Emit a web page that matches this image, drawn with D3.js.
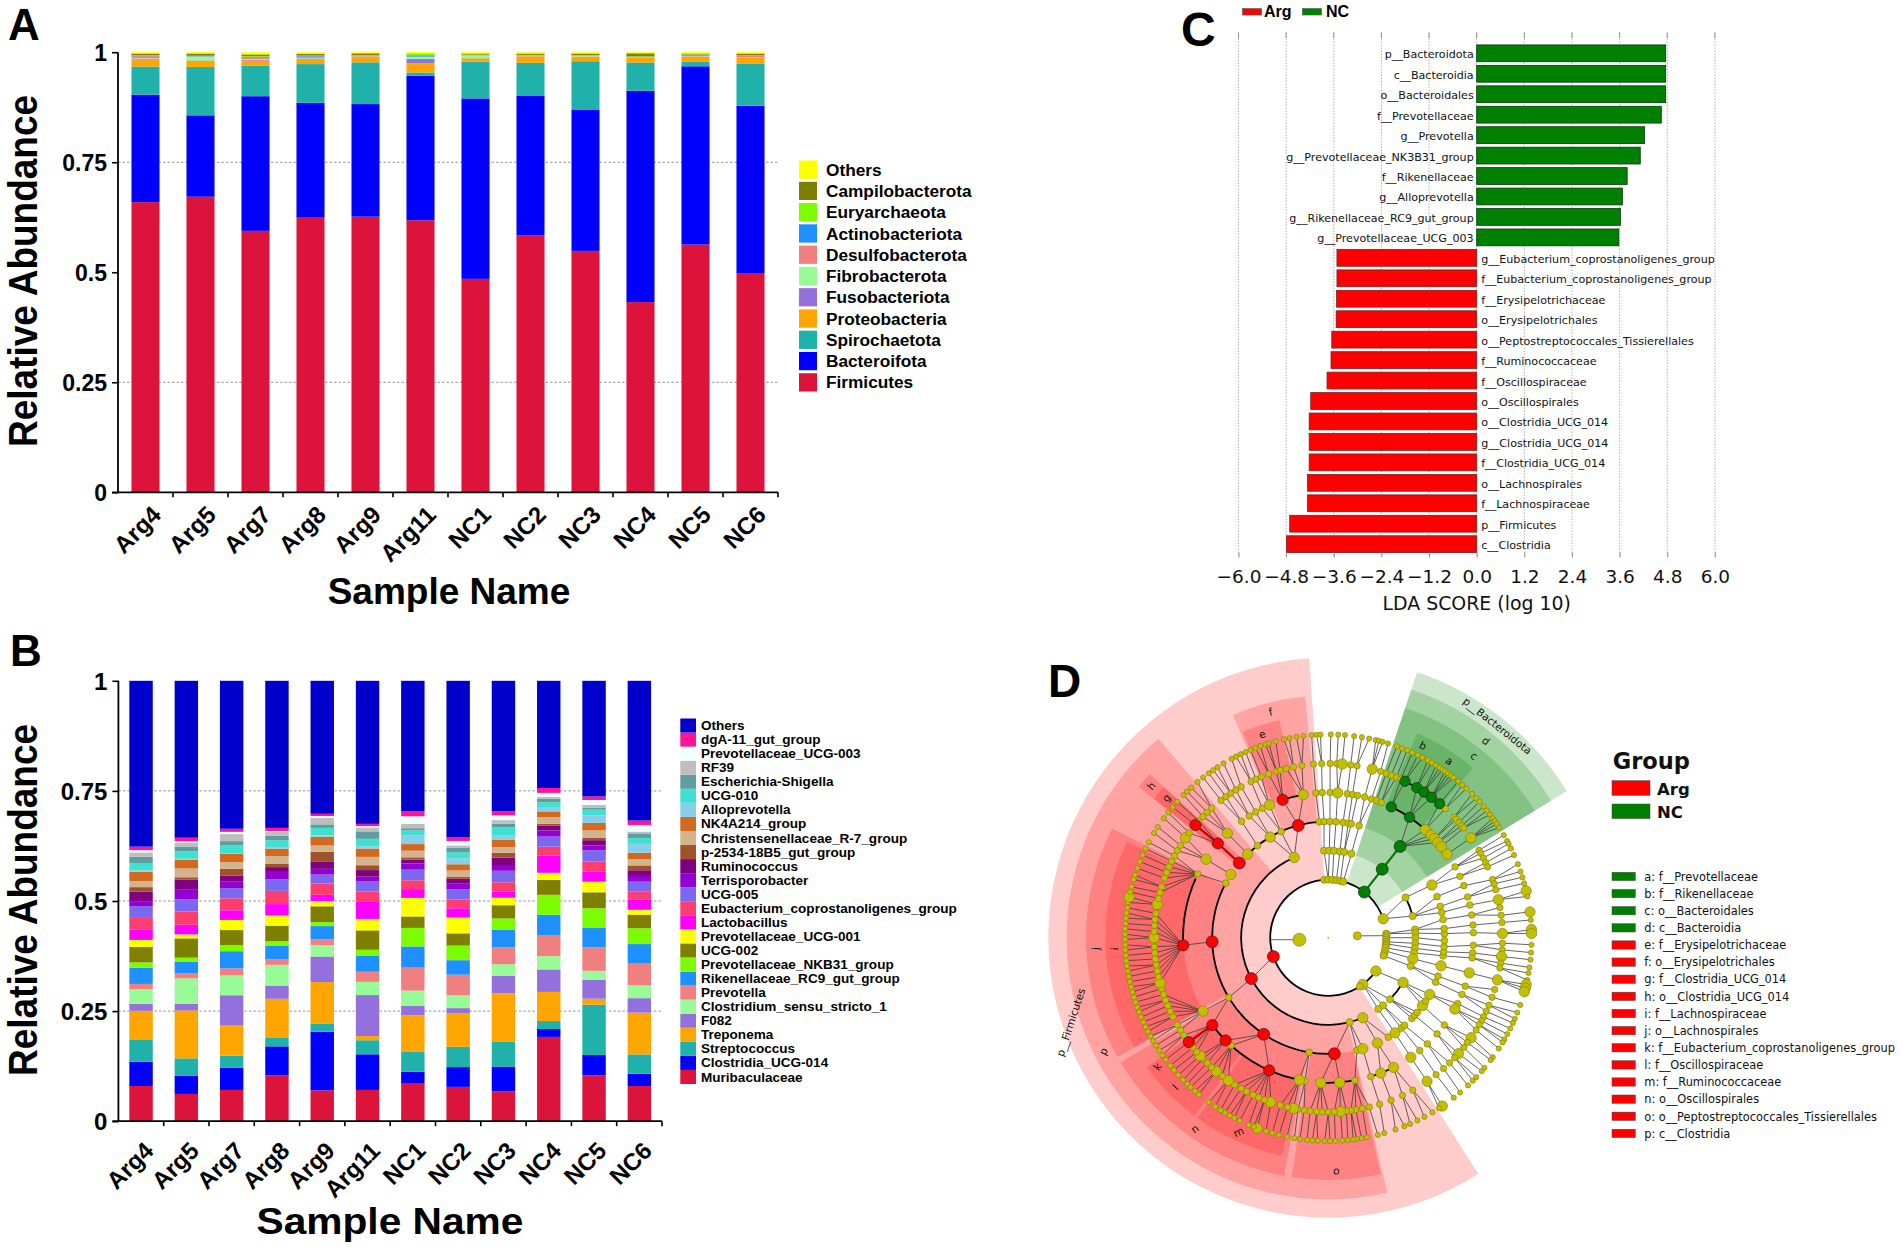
<!DOCTYPE html>
<html><head><meta charset="utf-8">
<script src="https://cdn.jsdelivr.net/npm/d3@7"></script>
<style>
html,body{margin:0;padding:0;background:#fff}
svg{display:block}
.sans{font-family:"Liberation Sans",Arial,sans-serif;font-weight:bold;fill:#000}
.dj{font-family:"DejaVu Sans",sans-serif;fill:#111}
</style></head><body>
<svg id="c" width="1902" height="1247" viewBox="0 0 1902 1247"></svg>
<script>
// ---------- DATA ----------
const samples=["Arg4","Arg5","Arg7","Arg8","Arg9","Arg11","NC1","NC2","NC3","NC4","NC5","NC6"];
const abundanceTicks=[0,0.25,0.5,0.75,1];

// Panel A: phylum relative abundance (%), bottom to top
const phylumNames=["Firmicutes","Bacteroifota","Spirochaetota","Proteobacteria","Fusobacteriota","Fibrobacterota","Desulfobacterota","Actinobacteriota","Euryarchaeota","Campilobacterota","Others"];
const phylumColors=["#DC143C","#0000FF","#20B2AA","#FFA500","#9370DB","#98FB98","#F08080","#1E90FF","#7CFC00","#808000","#FFFF00"];
const Firmicutes=[65.9,67.2,59.4,62.4,62.7,61.6,48.5,58.4,54.8,43.2,56.3,49.8];
const Bacteroifota=[24.4,18.5,30.6,26.1,25.6,32.7,41.0,31.6,32.1,48.0,40.5,38.0];
const Spirochaetota=[6.4,11.0,6.95,8.8,9.5,0.75,8.35,7.55,10.95,6.4,1.1,9.6];
const Proteobacteria=[1.45,1.45,1.15,1.2,1.1,2.05,0.75,1.45,1.05,1.1,1.1,1.35];
const Fusobacteriota=[0.2,0.05,0.15,0.1,0.1,1.0,0.05,0.05,0.05,0.05,0.05,0.05];
const Fibrobacterota=[0.2,0.85,0.2,0.1,0.1,0.5,0.55,0.1,0.1,0.05,0.05,0.05];
const Desulfobacterota=[0.5,0.05,0.3,0.3,0.25,0.05,0.05,0.1,0.1,0.05,0.3,0.3];
const Actinobacteriota=[0.1,0.1,0.15,0.2,0.05,0.3,0.05,0.05,0.05,0.05,0.05,0.05];
const Euryarchaeota=[0.1,0.05,0.2,0.05,0.05,0.3,0.15,0.05,0.05,0.1,0.05,0.05];
const Campilobacterota=[0.4,0.5,0.4,0.4,0.4,0.1,0.25,0.3,0.35,0.7,0.2,0.4];
const PhylumOthers=[0.3,0.3,0.5,0.35,0.25,0.3,0.3,0.3,0.3,0.25,0.3,0.3];
const phylumValues=[Firmicutes,Bacteroifota,Spirochaetota,Proteobacteria,Fusobacteriota,Fibrobacterota,Desulfobacterota,Actinobacteriota,Euryarchaeota,Campilobacterota,PhylumOthers];

// Panel B: genus relative abundance (%), bottom to top
const genusNames=["Muribaculaceae","Clostridia_UCG-014","Streptococcus","Treponema","F082","Clostridium_sensu_stricto_1","Prevotella","Rikenellaceae_RC9_gut_group","Prevotellaceae_NKB31_group","UCG-002","Prevotellaceae_UCG-001","Lactobacillus","Eubacterium_coprostanoligenes_group","UCG-005","Terrisporobacter","Ruminococcus","p-2534-18B5_gut_group","Christensenellaceae_R-7_group","NK4A214_group","Alloprevotella","UCG-010","Escherichia-Shigella","RF39","Prevotellaceae_UCG-003","dgA-11_gut_group","Others"];
const genusColors=["#DC143C","#0000FF","#20B2AA","#FFA500","#9370DB","#98FB98","#F08080","#1E90FF","#7CFC00","#808000","#FFFF00","#FF00FF","#FF3E6F","#7B68EE","#9400D3","#800080","#A0522D","#D2B48C","#D2691E","#87CEEB","#40E0D0","#5F9EA0","#BEBEBE","#F0FFFF","#FF1493","#0000CD"];
const Muribaculaceae=[8.0,6.2,7.1,10.4,7.0,7.1,8.5,7.8,6.8,19.1,10.4,8.0];
const ClostridiaUCG014=[5.5,4.1,5.0,6.6,13.3,8.1,2.7,4.5,5.6,1.8,4.6,2.8];
const Streptococcus=[5.1,4.0,2.8,1.9,1.9,3.2,4.5,4.6,5.6,1.8,11.4,4.4];
const Treponema=[6.5,10.9,6.8,8.9,9.4,0.95,8.3,7.7,11.0,6.6,1.35,9.5];
const F082=[1.6,1.5,6.9,3.0,5.8,9.3,2.1,1.1,4.0,5.1,4.3,3.3];
const ClostridiumSS1=[3.3,5.8,4.5,4.7,2.6,3.0,3.5,2.9,2.6,3.0,2.0,2.9];
const Prevotella=[1.2,1.1,1.6,1.3,1.3,2.3,5.2,4.7,3.9,4.8,5.3,5.1];
const RikenellaceaeRC9=[3.7,2.7,3.9,3.0,3.0,3.7,4.8,3.3,3.9,4.6,4.4,4.3];
const PrevotellaceaeNKB31=[1.2,0.9,1.4,1.1,0.9,1.3,4.2,3.3,2.6,4.5,4.5,3.6];
const UCG002=[3.5,4.4,3.4,3.5,3.6,4.4,2.6,2.8,3.0,3.4,3.6,3.1];
const PrevotellaceaeUCG001=[1.6,0.9,2.3,2.3,1.2,2.6,4.2,3.6,1.7,1.6,2.4,1.1];
const Lactobacillus=[2.4,2.2,2.2,2.6,1.4,3.9,2.0,2.1,1.4,3.9,2.3,2.3];
const EubacteriumCoprostanoligenes=[2.6,3.0,2.7,3.0,2.6,2.3,2.0,2.0,2.1,2.0,2.3,1.8];
const UCG005=[2.7,2.8,2.3,2.6,2.0,2.4,2.4,2.3,2.6,2.3,2.5,2.3];
const Terrisporobacter=[1.1,2.3,1.6,1.7,1.3,1.0,1.4,1.4,1.1,1.4,1.1,1.3];
const Ruminococcus=[2.2,2.2,1.3,1.1,1.7,1.5,0.9,1.0,1.9,1.1,1.2,1.3];
const p2534=[1.0,0.5,1.5,0.8,2.2,1.1,0.5,0.5,1.1,0.4,0.5,1.1];
const ChristensenellaceaeR7=[1.4,2.0,1.5,1.7,1.4,1.9,1.5,1.4,1.3,1.5,1.7,1.4];
const NK4A214=[2.1,2.0,1.9,1.7,2.0,1.9,1.5,1.4,1.7,1.3,1.7,1.5];
const Alloprevotella=[0.3,0.2,0.2,0.2,0.3,0.5,2.0,1.3,1.0,1.0,1.7,2.0];
const UCG010=[1.7,1.7,1.7,1.7,1.7,1.7,1.1,1.4,1.8,1.1,1.3,1.3];
const EscherichiaShigella=[1.4,1.1,1.0,1.0,0.8,1.7,0.5,1.0,0.8,0.8,0.5,1.1];
const RF39=[1.0,0.9,1.6,0.9,1.5,0.9,1.0,0.6,0.8,0.4,0.6,0.4];
const PrevotellaceaeUCG003=[0.5,0.3,0.5,0.2,0.4,0.3,1.7,1.0,1.1,0.9,1.1,1.5];
const dgA11=[0.8,0.8,0.7,0.7,0.5,0.5,1.2,0.8,0.9,1.1,0.8,1.0];
const GenusOthers=[37.7,35.7,33.6,33.4,30.2,32.5,29.5,35.6,29.6,24.3,26.2,31.8];
const genusValues=[Muribaculaceae,ClostridiaUCG014,Streptococcus,Treponema,F082,ClostridiumSS1,Prevotella,RikenellaceaeRC9,PrevotellaceaeNKB31,UCG002,PrevotellaceaeUCG001,Lactobacillus,EubacteriumCoprostanoligenes,UCG005,Terrisporobacter,Ruminococcus,p2534,ChristensenellaceaeR7,NK4A214,Alloprevotella,UCG010,EscherichiaShigella,RF39,PrevotellaceaeUCG003,dgA11,GenusOthers];

// Panel C: LDA
const ldaNames=["p__Bacteroidota","c__Bacteroidia","o__Bacteroidales","f__Prevotellaceae","g__Prevotella","g__Prevotellaceae_NK3B31_group","f__Rikenellaceae","g__Alloprevotella","g__Rikenellaceae_RC9_gut_group","g__Prevotellaceae_UCG_003","g__Eubacterium_coprostanoligenes_group","f__Eubacterium_coprostanoligenes_group","f__Erysipelotrichaceae","o__Erysipelotrichales","o__Peptostreptococcales_Tissierellales","f__Ruminococcaceae","f__Oscillospiraceae","o__Oscillospirales","o__Clostridia_UCG_014","g__Clostridia_UCG_014","f__Clostridia_UCG_014","o__Lachnospirales","f__Lachnospiraceae","p__Firmicutes","c__Clostridia"];
const ldaValues=[4.76,4.76,4.76,4.65,4.23,4.12,3.79,3.67,3.62,3.58,-3.52,-3.52,-3.53,-3.54,-3.65,-3.67,-3.77,-4.18,-4.22,-4.22,-4.22,-4.26,-4.26,-4.71,-4.79];
const ldaTicks=[-6,-4.8,-3.6,-2.4,-1.2,0,1.2,2.4,3.6,4.8,6];

// Panel D: cladogram, node positions as bearing in degrees per taxonomic level
const ring1=[86.3,266];
const ring2=[356,0,4,8,12,15,71,86,88,90,92,94,96,98,100,103,106,108,125,143.5,147];
const ring3=[337,357.2,0.7,3.7,7.7,10.5,15.4,62.5,75.6,84.6,87,90,93.7,97,100,104,109,120.9,135,141,145,156.7,165.8];
const ring4=[355.6,357.9,0.8,3.8,7.3,9.9,11.4,15.4,336,330,322.4,316,303,298,239,189.5,165.7,162.7,155,148.9,145,141,139,134,132,130,125.8,123,119.2,112.5,109.3,104,99,97,94.4,91.5,88,85.5,81,77.5,74.4,69.3,63];
const ring5=[350.1,355.1,357.6,0.7,3.7,7.5,9.6,11.6,14.5,17.3,19.3,21.4,41.9,45,47,49,51.1,54.9,60.8,65,69,73.7,77,81,85,88,93,96,98,104,109.5,113,117,119.4,127,131.5,137,141,145.4,153.3,158.8,163,169.5,175.5,183,189.2,191.5,222,239.6,296,302.7,316,323.3,327,330,333,336.1];
const ring6=[351.3,355.1,357.8,0.6,2.8,4.6,7.4,9.5,14.6,17.5,19.4,21.2,23,24.6,42.2,46.2,47.2,48.6,50,51,55,59.9,61,62.8,64.5,66,70.5,72,74,77.4,80,82.6,85,88.6,91.8,94,96.2,98.4,100,104,107.3,110,112.8,115,117,118.5,120,122,125,127,129,131.7,133.5,135.9,138.6,141.8,145.5,151,154.8,158.9,162.9,166.4,168.7,170.9,172.5,174,176,178,180,182,183.8,186,188,190,191.5,193.5,196,199.3,201.5,203.6,205.5,208,210,212.5,215,217.5,220,222,224,226,227.4,229,231,236,238,240,243,245,247,249,251,253,255,257,259,261,263,265,267,270,272,274,276,278,281,283,285,287,290,292,294,296,298,300,302,305,307,312,314,316,318,322,324,326,328,330,333.7,335.5,337.4,340,342.7,344,346,348.5];
const ring7=[353,355.3,356.7,357.8,0.7,2.8,4.7,7.3,9.5,11.6,13.5,14.4,15.5,17.1,19.7,21.3,22.8,24.4,26.1,27.6,29.3,30.6,32,33.2,34.2,35,36,37,38,39.7,41.2,42.8,45,46.7,48,49.8,51.3,52.7,54,55,56,57.2,59.7,61.6,62.5,64,66,68.8,71,72.7,74.5,76.7,78.3,82.7,85,87.7,88.8,92,94.2,96.2,98.4,100,102,103.3,104.4,105.4,109.3,111.6,113.5,114.8,116.5,118.3,120,121,123,126,127,129.8,131,133.3,134.7,136.6,139.6,141.9,145.9,147,149.2,151.8,154,156.3,158,160.7,164,165.9,169,170.6,172,173,174.5,176,178,179.5,181,183,184.5,186,188,189.6,191.7,194,196,197.8,200.5,201.5,203,205.8,207.5,209,210.6,212,213.8,216,219.5,221,222.6,224,225.6,227.5,229.4,231,233.1,234.7,236.3,238,239.5,241,242.5,244,245.5,247,248.6,250,251.5,253,254.5,256,257.5,259,260.5,262,263.5,265,266.5,268,269.5,271,272.5,274,275.5,277,278.5,280,281.6,283,284.5,286.7,288,290,292,294,296,298,301,303,306,308,310,312,314.6,316,317.6,320,322,324,325.5,327,329,331.6,333,334.5,336,337.5,339,340.5,342,343,345,347.4,349,351];
const ringLarge=[[266],[71,125,143.5],[337,104,120.9,156.7],[330,316,303,155,162.7,145,125.8,119.2,104,63],[350.1,3.7,41.9,45,47,49,51.1,54.9,104,119.4,145.4,153.3,158.8,175.5,183,191.5,239.6,302.7,316,336.1],[4.6,14.6,55,77.4,88.6,96.2,104,125,131.7,145.5,176,191.5,199.3,215,220,227.4,255,270,281,305],[76.7,82.7,87.7,88.8,103.3,104.4,105.4,145.9,200.5,281.6]];
const argNodes=[[],[251],[242],[310,345,268,213.8,177],[341.7,310.5,267,233,225,204],[310.3,233.2],[]];
const ncNodes=[[],[38.3],[38.2],[38.2],[25.7,34],[26.1,30.5,33.3,36.3,39.7],[]];
// clade shading: name, group, level, from bearing, to bearing, label bearing
const cladeNames=["p__Firmicutes","p","j","i","n","k","l","m","o","f","e","h","g","p__Bacteroidota","d","c","b","a"];
const cladeGroups=["Arg","Arg","Arg","Arg","Arg","Arg","Arg","Arg","Arg","Arg","Arg","Arg","Arg","NC","NC","NC","NC","NC"];
const cladeLevels=[2,3,4,5,4,5,5,5,4,4,5,4,5,2,3,4,5,5];
const cladeFrom=[147.6,167,240.5,240.5,190.5,230.5,217,192,167.5,336.8,337.4,308.5,308.5,18.5,18.5,18.5,23.5,28.4];
const cladeTo=[356.1,319.5,296.8,295.5,239,234.5,230.5,216,188.7,354.5,347.3,312.5,312.5,58.4,58.4,58.4,28.4,40.4];
const cladeLabelAt=[251.8,243.2,267.3,267,214.9,233,225.6,204.8,178,345.7,342,310.6,310.8,38.6,38.7,38.7,26.2,34.4];
// black branches: level, from bearing, to bearing
const arcLevels=[2,3,3,3,4,4,5,5,5,5,5,5,6];
const arcFrom=[125,156,62.5,121,177,318,267,192,341.7,25.7,169.5,153.3,26.1];
const arcTo=[431,337,75.6,135,298,358,294,233,350.3,42,183,163,39.7];
// highlighted branches: from level, from bearing, to level, to bearing, group
const hiFromLevel=[4,5,5,2,3];
const hiFromAngle=[310,310.5,233,38.3,38.2];
const hiToLevel=[5,6,6,3,4];
const hiToAngle=[310.5,310.3,233.2,38.2,38.2];
const hiGroup=["Arg","Arg","Arg","NC","NC"];
const cladoLegendGroups=["Arg","NC"];
const cladoKeyNames=["a: f__Prevotellaceae","b: f__Rikenellaceae","c: o__Bacteroidales","d: c__Bacteroidia","e: f__Erysipelotrichaceae","f: o__Erysipelotrichales","g: f__Clostridia_UCG_014","h: o__Clostridia_UCG_014","i: f__Lachnospiraceae","j: o__Lachnospirales","k: f__Eubacterium_coprostanoligenes_group","l: f__Oscillospiraceae","m: f__Ruminococcaceae","n: o__Oscillospirales","o: o__Peptostreptococcales_Tissierellales","p: c__Clostridia"];
const cladoKeyGroups=["NC","NC","NC","NC","Arg","Arg","Arg","Arg","Arg","Arg","Arg","Arg","Arg","Arg","Arg","Arg"];
const groupColor={Arg:"#FF0000",NC:"#008000"};

// ---------- DRAW ----------
const svg=d3.select("#c");
function panelLetter(t,x,y,s){svg.append("text").attr("class","sans").attr("x",x).attr("y",y).attr("font-size",s).text(t);}
panelLetter("A",8,40,44);panelLetter("B",10,666,44);panelLetter("C",1181,46,48);panelLetter("D",1048,697,46);

function stackPanel(o){
  const g=svg.append("g");
  const x=d3.scaleBand().domain(samples).range([o.x0,o.x1]).paddingInner(o.pad).paddingOuter(o.pad/2);
  const y=d3.scaleLinear().domain([0,1]).range([o.y0,o.y1]);
  g.selectAll(".gr").data(o.grid).join("line").attr("x1",o.x0).attr("x2",o.x1)
    .attr("y1",d=>y(d)).attr("y2",d=>y(d)).attr("stroke","#777").attr("stroke-width",.8).attr("stroke-dasharray","2.5 2");
  const rows=samples.map((s,i)=>{const r={s};o.values.forEach((v,k)=>r[k]=v[i]);return r;});
  const st=d3.stack().keys(o.values.map((_,k)=>k)).offset(d3.stackOffsetExpand)(rows);
  g.selectAll(".ser").data(st).join("g").attr("fill",(d,i)=>o.colors[i])
    .selectAll("rect").data(d=>d).join("rect")
    .attr("x",d=>x(d.data.s)).attr("width",x.bandwidth())
    .attr("y",d=>y(d[1])).attr("height",d=>Math.max(0,y(d[0])-y(d[1])));
  const ax=g.append("g").attr("transform",`translate(${o.x0},0)`)
    .call(d3.axisLeft(y).tickValues(abundanceTicks).tickFormat(d=>String(d)).tickSize(6).tickPadding(o.tp));
  ax.select(".domain").attr("stroke-width",1.8).attr("d",`M0,${o.y0}V${o.y1}`);
  ax.selectAll(".tick line").attr("stroke-width",1.6);
  ax.selectAll("text").attr("class","sans").attr("font-size",o.ytf).attr("dy",".36em");
  const bx=g.append("g").attr("transform",`translate(0,${o.y0})`)
    .call(d3.axisBottom(x).tickSize(0).tickPadding(0));
  bx.select(".domain").attr("stroke-width",1.8).attr("d",`M${o.x0-6},0H${o.x1}`);
  bx.selectAll("text").attr("class","sans").attr("font-size",o.xtf).attr("text-anchor","end")
    .attr("dy",0).attr("y",0).attr("transform",`translate(${o.lx},${o.ly}) rotate(-45)`);
  g.selectAll(".et").data(samples).join("line").attr("x1",d=>x(d)+x.bandwidth()+x.step()*o.pad/2).attr("x2",d=>x(d)+x.bandwidth()+x.step()*o.pad/2)
    .attr("y1",o.y0).attr("y2",o.y0+5).attr("stroke","#000").attr("stroke-width",1.6);
  g.append("text").attr("class","sans").attr("font-size",37)
    .attr("text-anchor","middle")
    .attr("transform",`translate(${o.yTitleX},${o.yTitleY}) rotate(-90) scale(1,1.12)`).text("Relative Abundance");
  g.append("text").attr("class","sans").attr("font-size",37).attr("text-anchor","middle")
    .attr("transform",`translate(${o.xTitleX},${o.xTitleY}) scale(${o.xTitleSx},1)`).text("Sample Name");
  const n=o.names.length;
  const ly=d3.scaleBand().domain(d3.range(n)).range([o.legB,o.legT]);
  const lg=g.append("g");
  lg.selectAll("rect").data(o.names).join("rect").attr("x",o.legX).attr("width",o.legW)
    .attr("y",(d,i)=>ly(i)+o.legGap/2).attr("height",ly.bandwidth()-o.legGap).attr("fill",(d,i)=>o.colors[i]);
  lg.selectAll("text").data(o.names).join("text").attr("class","sans").attr("font-size",o.legF)
    .attr("transform",(d,i)=>`translate(${o.legTx},${ly(i)+ly.bandwidth()/2+o.legF*.36}) scale(${o.legSx},1)`).text(d=>d);
}
stackPanel({x0:118,x1:778,y0:492.3,y1:52.2,pad:.49,grid:[.25,.75],values:phylumValues,colors:phylumColors,names:phylumNames,
  tp:5,ytf:23,xtf:24,lx:17,ly:24,yTitleX:37,yTitleY:271,xTitleX:449,xTitleY:604,xTitleSx:1,
  legX:799,legW:18,legT:159,legB:393,legGap:3,legF:17,legTx:826,legSx:1.015});
stackPanel({x0:118.4,x1:662,y0:1121.2,y1:680.8,pad:.483,grid:[.25,.5,.75],values:genusValues,colors:genusColors,names:genusNames,
  tp:5,ytf:24,xtf:24,lx:14,ly:31,yTitleX:37,yTitleY:900,xTitleX:390,xTitleY:1234,xTitleSx:1.1,
  legX:680.3,legW:15.7,legT:718.5,legB:1084,legGap:0,legF:12.6,legTx:701,legSx:1.075});

// Panel C
(function(){
  const g=svg.append("g");
  const x=d3.scaleLinear().domain([-6,6]).range([1238.5,1714.9]);
  const y=d3.scaleBand().domain(ldaNames).range([43.1,554.4]).paddingInner(.178).paddingOuter(.089);
  g.selectAll(".gl").data(ldaTicks).join("line").attr("x1",d=>x(d)).attr("x2",d=>x(d)).attr("y1",32.5).attr("y2",557.5)
    .attr("stroke","#aaa").attr("stroke-width",.9).attr("stroke-dasharray","1.5 1.5");
  g.selectAll(".gt").data(ldaTicks).join("line").attr("x1",d=>x(d)).attr("x2",d=>x(d)).attr("y1",32.5).attr("y2",38)
    .attr("stroke","#888").attr("stroke-width",.9);
  g.selectAll("rect").data(ldaNames).join("rect")
    .attr("x",(d,i)=>Math.min(x(0),x(ldaValues[i]))).attr("width",(d,i)=>Math.abs(x(ldaValues[i])-x(0)))
    .attr("y",d=>y(d)).attr("height",y.bandwidth())
    .attr("fill",(d,i)=>ldaValues[i]>0?groupColor.NC:groupColor.Arg)
    .attr("stroke",(d,i)=>ldaValues[i]>0?"#063a06":"#7a2020").attr("stroke-width",.8);
  g.selectAll(".lab").data(ldaNames).join("text").attr("class","dj").attr("font-size",11.1)
    .attr("x",(d,i)=>ldaValues[i]>0?x(0)-3:x(0)+4.5).attr("y",d=>y(d)+y.bandwidth()/2+5)
    .attr("text-anchor",(d,i)=>ldaValues[i]>0?"end":"start").text(d=>d);
  const ax=g.append("g").attr("transform","translate(0,557.5)")
    .call(d3.axisBottom(x).tickValues(ldaTicks).tickFormat(d3.format(".1f")).tickSize(-5).tickPadding(12));
  ax.select(".domain").remove();
  ax.selectAll(".tick line").attr("stroke","#888").attr("stroke-width",.9);
  ax.selectAll("text").attr("class","dj").attr("font-size",18.5).attr("fill","#111");
  g.append("text").attr("class","dj").attr("font-size",18.9).attr("x",x(0)).attr("y",610).attr("text-anchor","middle").text("LDA SCORE (log 10)");
  const leg=g.append("g");
  [["Arg",1242.5,1264],["NC",1302.5,1326]].forEach(([k,sx,tx])=>{
    leg.append("rect").attr("x",sx).attr("y",8.5).attr("width",19).attr("height",6.5).attr("fill",groupColor[k]).attr("stroke","#555").attr("stroke-width",.6);
    leg.append("text").attr("class","sans").attr("font-size",16).attr("font-weight","normal").attr("x",tx).attr("y",17).text(k);
  });
})();

// Panel D
(function(){
  const cx=1328.3,cy=937.7;
  const g=svg.append("g").attr("transform",`translate(${cx},${cy})`);
  const rad=d3.scaleLinear().domain([0,7]).range([0,203.3]);
  const bandOuter=d3.scaleOrdinal().domain([2,3,4,5]).range([280,261.7,242.3,223]);
  const bandInner=d3.scaleOrdinal().domain([2,3,4,5]).range([58,87,116,145]);
  const rd=Math.PI/180;
  const pos=(level,a)=>[rad(level)*Math.sin(a*rd),-rad(level)*Math.cos(a*rd)];
  const arc=d3.arc();
  g.selectAll(".sec").data(cladeNames).join("path")
    .attr("d",(d,i)=>arc({innerRadius:bandInner(cladeLevels[i]),outerRadius:bandOuter(cladeLevels[i]),startAngle:cladeFrom[i]*rd,endAngle:cladeTo[i]*rd}))
    .attr("fill",(d,i)=>groupColor[cladeGroups[i]]).attr("fill-opacity",.2);
  const rings=[ring1,ring2,ring3,ring4,ring5,ring6,ring7].map((r,i)=>r.concat(argNodes[i],ncNodes[i]));
  const adist=(a,b)=>{const d=Math.abs(((a-b)%360+360)%360);return Math.min(d,360-d);};
  const links=[];
  const sectorOf=a=>{a=(a+360)%360;if(a>=18.5&&a<=58.4)return 1;if(a>=147.6&&a<=356.1)return 2;return 0;};
  rings.forEach((r,i)=>{ if(i<2)return;
    r.forEach(a=>{
      let best=null,bd=1e9;
      rings[i-1].forEach(p=>{const d=adist(a,p);if(d<bd&&sectorOf(p)===sectorOf(a)){bd=d;best=p;}});
      if(best===null||bd>12)return;
      links.push([pos(i,best),pos(i+1,a)]);
    });
  });
  links.push([pos(1,86.3),pos(2,88)],[pos(1,266),pos(2,268)]);
  g.append("g").selectAll("line").data(links).join("line")
    .attr("x1",d=>d[0][0]).attr("y1",d=>d[0][1]).attr("x2",d=>d[1][0]).attr("y2",d=>d[1][1])
    .attr("stroke","#3c3c3c").attr("stroke-width",.8);
  g.append("g").selectAll("path").data(arcLevels).join("path")
    .attr("d",(d,i)=>{const r=rad(d);return arc({innerRadius:r-.9,outerRadius:r+.9,startAngle:arcFrom[i]*rd,endAngle:arcTo[i]*rd});})
    .attr("fill","#000");
  g.append("g").selectAll("line").data(hiGroup).join("line")
    .attr("x1",(d,i)=>pos(hiFromLevel[i],hiFromAngle[i])[0]).attr("y1",(d,i)=>pos(hiFromLevel[i],hiFromAngle[i])[1])
    .attr("x2",(d,i)=>pos(hiToLevel[i],hiToAngle[i])[0]).attr("y2",(d,i)=>pos(hiToLevel[i],hiToAngle[i])[1])
    .attr("stroke",d=>d==="Arg"?"#c00000":"#0a7a0a").attr("stroke-width",2.2);
  const nodeSize=d3.scaleOrdinal().domain([0,1,2,3,4,5,6]).range([4,3.6,3.6,3.4,3.3,3.2,2.6]);
  const nodes=[];
  [ring1,ring2,ring3,ring4,ring5,ring6,ring7].forEach((r,i)=>{
    r.forEach(a=>{
      const large=ringLarge[i].includes(a);
      nodes.push({i,a,c:"#C4BE00",s:large?(i===0?6.5:5.2):nodeSize(i)});
    });
    argNodes[i].forEach(a=>nodes.push({i,a,c:"#FF0000",s:i<4?6:5.6}));
    ncNodes[i].forEach(a=>nodes.push({i,a,c:"#008000",s:i<4?6:5.2}));
  });
  g.append("g").selectAll("circle").data(nodes).join("circle")
    .attr("cx",d=>pos(d.i+1,d.a)[0]).attr("cy",d=>pos(d.i+1,d.a)[1]).attr("r",d=>d.s)
    .attr("fill",d=>d.c).attr("stroke",d=>d.c==="#C4BE00"?"#7d7a10":"#1a1a1a").attr("stroke-width",.6);
  g.append("circle").attr("r",1).attr("cx",0).attr("cy",0).attr("fill","#C4BE00");
  const labelR=d3.scaleOrdinal().domain([2,3,4,5]).range([271,252,233,214]);
  g.selectAll(".cl").data(cladeNames).join("text").attr("class","dj").attr("text-anchor","middle").attr("dy",".35em")
    .attr("font-size",10.5)
    .attr("fill",(d,i)=>cladeGroups[i]==="NC"?"#0b2e0b":"#4a0f0f")
    .attr("transform",(d,i)=>{const a=cladeLabelAt[i],r=labelR(cladeLevels[i]);
      const rot=(a>90&&a<270)?180-a:(a>=270?a-360:a);
      return `translate(${r*Math.sin(a*rd)},${-r*Math.cos(a*rd)}) rotate(${rot})`;}).text(d=>d);
  const l=svg.append("g");
  l.append("text").attr("class","dj").attr("font-weight","bold").attr("font-size",22.5).attr("x",1612.7).attr("y",769).attr("fill","#000").text("Group");
  const gy=d3.scalePoint().domain(cladoLegendGroups).range([780.7,804]);
  l.selectAll(".gs").data(cladoLegendGroups).join("rect").attr("x",1612).attr("width",38).attr("y",d=>gy(d)).attr("height",14.6)
    .attr("fill",d=>groupColor[d]).attr("stroke","#444").attr("stroke-width",.5);
  l.selectAll(".gt").data(cladoLegendGroups).join("text").attr("class","dj").attr("font-weight","bold").attr("font-size",16.5)
    .attr("x",1657).attr("y",d=>gy(d)+14.3).text(d=>d);
  const ky=d3.scaleBand().domain(cladoKeyNames).range([868,868+17.13*16]);
  l.selectAll(".ks").data(cladoKeyNames).join("rect").attr("x",1612).attr("width",23.3).attr("y",d=>ky(d)+4.3).attr("height",8.3)
    .attr("fill",(d,i)=>groupColor[cladoKeyGroups[i]]).attr("stroke","#444").attr("stroke-width",.5);
  l.selectAll(".kt").data(cladoKeyNames).join("text").attr("class","dj").attr("font-size",11.4)
    .attr("x",1644.3).attr("y",d=>ky(d)+12.7).text(d=>d);
})();
</script>
</body></html>
